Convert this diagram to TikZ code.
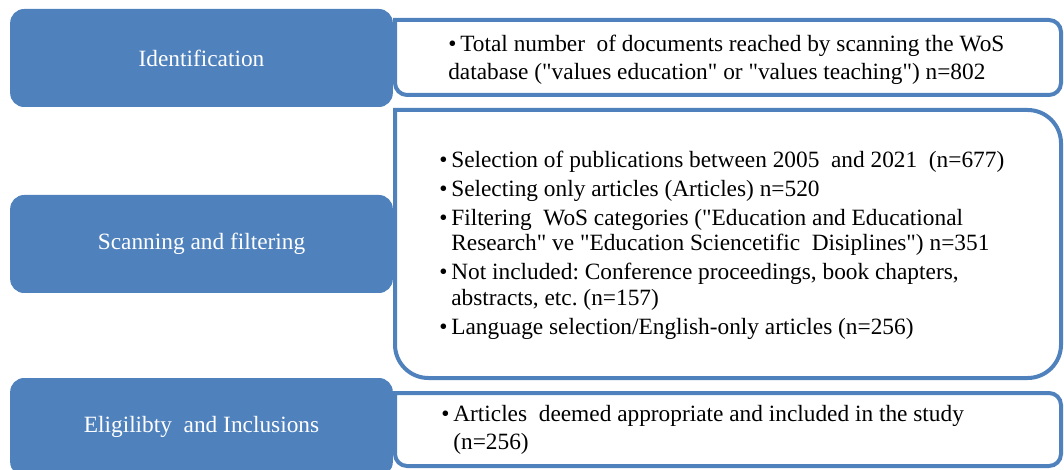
\documentclass[tikz,border=0pt]{standalone}
\usepackage{fontspec}
\setmainfont{Liberation Serif}
\usepackage{tikz}
\usetikzlibrary{positioning}

\definecolor{stageblue}{HTML}{4F81BD}
\newcommand{\dq}{\textquotedbl}
\frenchspacing

\begin{document}
\begin{tikzpicture}[x=0.75pt, y=-0.75pt,
  stage/.style={rectangle, rounded corners=10.5pt, fill=stageblue, text=white,
    minimum width=287pt, minimum height=73.5pt, inner sep=0pt,
    font=\fontsize{17.5}{21}\selectfont},
  detailbox/.style={draw=stageblue, line width=3pt, fill=white},
  detail/.style={anchor=west, align=left, inner sep=0pt, text=black}]
\clip (0,0) rectangle (1064,470);

% white boxes on the right
\draw[detailbox] (395,20) [rounded corners=9pt] -- (1061,20) -- (1061,95) -- (395,95) [sharp corners] -- cycle;
\draw[detailbox] (395,110) [rounded corners=25pt] -- (1061,110) -- (1061,378) -- (395,378) [sharp corners] -- cycle;
\draw[detailbox] (395,393) [rounded corners=9pt] -- (1061,393) -- (1061,466) -- (395,466) [sharp corners] -- cycle;

% blue stages on the left
\node[stage] (ident) at (201.5,58) {Identification};
\node[stage] (scan) at (201.5,244) {Scanning and filtering};
\node[stage] (elig) at (201.5,427) {Eligilibty~ and Inclusions};

% texts
\node[detail, font=\fontsize{17.5}{21}\selectfont] (identtxt) at (448,60)
  {\textbullet\,Total number~ of documents reached by scanning the WoS\\
   database (\dq values education\dq{} or \dq values teaching\dq) n=802};
\node[detail, font=\fontsize{17.5}{19.1}\selectfont] (scantxt) at (439,245)
  {\textbullet\,Selection of publications between 2005~ and 2021~ (n=677)\\[2.7pt]
   \textbullet\,Selecting only articles (Articles) n=520\\[2.7pt]
   \textbullet\,Filtering~ WoS categories (\dq Education and Educational\\
   \hphantom{\textbullet\,}Research\dq{} ve \dq Education Sciencetific~ Disiplines\dq) n=351\\[2.7pt]
   \textbullet\,Not included: Conference proceedings, book chapters,\\
   \hphantom{\textbullet\,}abstracts, etc. (n=157)\\[2.7pt]
   \textbullet\,Language selection/English-only articles (n=256)};
\node[detail, font=\fontsize{17.5}{20.5}\selectfont] (eligtxt) at (441,430)
  {\textbullet\,Articles~ deemed appropriate and included in the study\\
   \hphantom{\textbullet\,}(n=256)};
\end{tikzpicture}
\end{document}
